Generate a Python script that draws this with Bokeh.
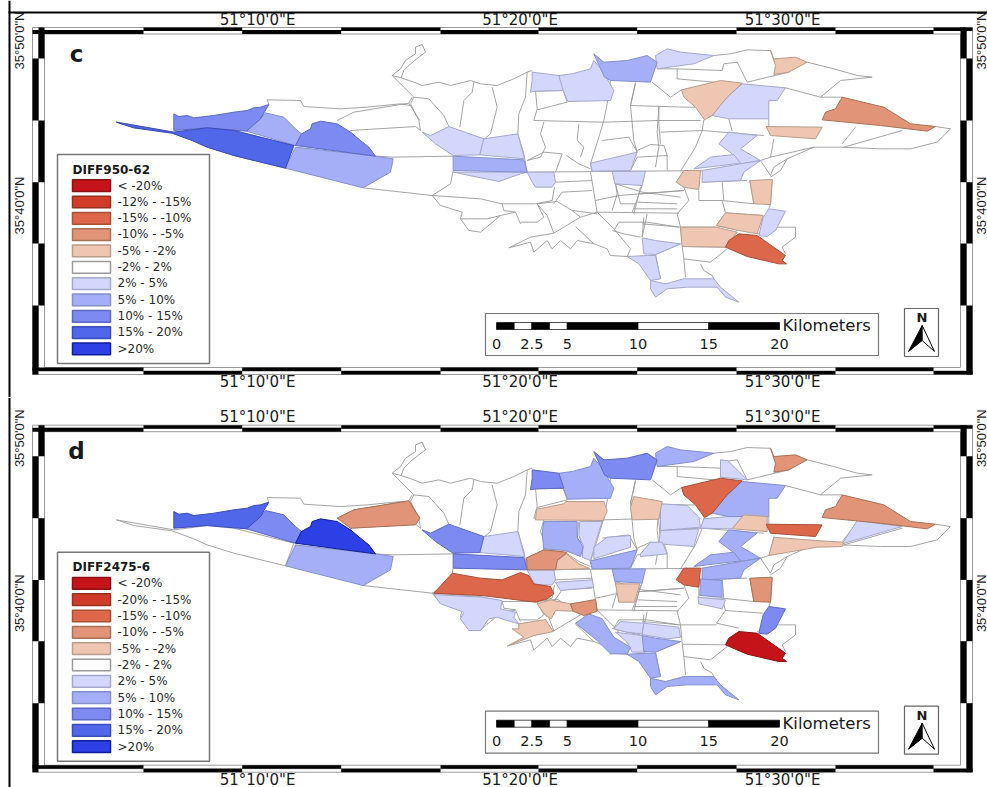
from math import pi
from bokeh.plotting import figure
from bokeh.layouts import column
from bokeh.models import Range1d
from bokeh.core.properties import value
from bokeh.embed import file_html
from bokeh.resources import INLINE

# ---- classes ----
LABELS_C = ["< -20%", "-12% - -15%", "-15% - -10%", "-10% - -5%", "-5% - -2%", "-2% - 2%",
            "2% - 5%", "5% - 10%", "10% - 15%", "15% - 20%", ">20%"]
LABELS_D = ["< -20%", "-20% - -15%", "-15% - -10%", "-10% - -5%", "-5% - -2%", "-2% - 2%",
            "2% - 5%", "5% - 10%", "10% - 15%", "15% - 20%", ">20%"]
FILLS = ["#c4141a", "#d13c28", "#dc674a", "#e19478", "#eec6b2", "#ffffff",
         "#d3d7fb", "#a5aff7", "#7c8af2", "#5167ea", "#2c40e6"]
EDGES = ["#8c1014", "#96301f", "#a85038", "#a87258", "#b89c8c", "#9a9a9a",
         "#a4a8cc", "#8490cc", "#5c68c4", "#3a4cbc", "#101e98"]
TITLES = ("DIFF950-62", "DIFF2475-6")
LON_TICKS = [(10, "51°10'0\"E"), (20, "51°20'0\"E"), (30, "51°30'0\"E")]
LAT_TICKS = [(50, "35°50'0\"N"), (40, "35°40'0\"N")]
SCALE_KM = [0, 1.25, 2.5, 3.75, 5, 10, 15, 20]
SCALE_LABELS = [(0, "0"), (2.5, "2.5"), (5, "5"), (10, "10"), (15, "15"), (20, "20")]

# ---- districts, in map-grid units (3 per reference pixel) ----
DISTRICTS = {
 "SW":  ([(-792,245),(-620,275),(-520,262),(-440,270),(-260,315),(-285,383),(-440,345),(-520,320),(-565,300),(-625,278),(-740,262)], 9, 5),
 "NW":  ([(-620,220),(-605,228),(-580,225),(-560,232),(-500,225),(-440,215),(-400,210),(-380,202),(-360,200),(-335,192),(-360,235),(-402,272),(-520,262),(-620,270)], 8, 9),
 "B":   ([(-345,217),(-290,230),(-255,265),(-237,280),(-255,315),(-402,272),(-360,235)], 7, 8),
 "C":   ([(-237,280),(-210,265),(-205,250),(-180,242),(-130,250),(-90,275),(-60,300),(-35,320),(-15,347),(-255,315)], 8, 10),
 "D":   ([(-255,320),(-15,347),(38,355),(30,395),(-52,442),(-285,383)], 7, 7),
 "E":   ([(-130,240),(-80,215),(85,188),(118,240),(105,260),(-90,270)], 5, 3),
 "F":   ([(125,275),(150,285),(205,258),(310,295),(298,343),(218,345),(165,310)], 6, 8),
 "G":   ([(310,295),(412,280),(432,355),(298,343)], 6, 6),
 "H":   ([(218,347),(430,358),(440,395),(218,390)], 7, 8),
 "I":   ([(218,395),(355,423),(420,400),(440,395)], 6, 5),
 "J":   ([(440,395),(520,395),(525,425),(515,440),(465,440),(455,425)], 6, 6),
 "K":   ([(630,368),(770,335),(750,390),(635,392)], 6, 7),
 "L":   ([(695,393),(795,392),(785,435),(703,430)], 6, 7),
 "M":   ([(455,95),(535,105),(550,150),(465,152),(450,155),(455,120)], 6, 8),
 "N":   ([(535,105),(575,100),(630,85),(640,60),(665,90),(700,150),(690,180),(562,183),(548,150)], 6, 7),
 "O":   ([(640,40),(670,65),(740,60),(800,45),(830,65),(810,125),(690,120),(672,110)], 7, 8),
 "P":   ([(825,45),(860,25),(900,35),(1000,45),(940,70),(830,85)], 6, 7),
 "Q":   ([(1170,30),(1180,55),(1245,50),(1280,65),(1225,95),(1180,102),(1185,75)], 4, 3),
 "R":   ([(903,148),(1020,120),(1085,128),(1040,170),(995,225),(972,238),(945,200),(910,170)], 4, 2),
 "S":   ([(1085,130),(1215,142),(1190,180),(1165,180),(1165,235),(1045,235),(995,225),(1040,170)], 6, 7),
 "T":   ([(1385,170),(1510,200),(1590,250),(1665,258),(1640,272),(1500,255),(1325,238),(1335,215),(1365,205)], 3, 3),
 "U":   ([(1157,258),(1325,260),(1305,295),(1170,285)], 4, 2),
 "V":   ([(1180,297),(1305,307),(1390,312),(1385,325),(1310,327),(1165,352)], 5, 4),
 "W":   ([(1430,247),(1565,265),(1385,317)], 5, 6),
 "X":   ([(1015,310),(1045,275),(1130,285),(1080,325),(1140,360),(1080,370),(1055,340)], 6, 7),
 "Y":   ([(940,385),(990,350),(1060,342),(1080,368)], 6, 7),
 "Z":   ([(965,390),(1080,370),(1140,360),(1090,395),(1080,420),(965,425)], 6, 7),
 "AA":  ([(910,390),(960,390),(955,447),(910,440),(887,425)], 4, 2),
 "AB":  ([(1108,420),(1175,417),(1170,492),(1120,490)], 4, 3),
 "AC":  ([(1165,505),(1215,512),(1185,570),(1160,588),(1135,585),(1148,530)], 6, 8),
 "AD":  ([(1035,517),(1148,525),(1130,580),(1075,570),(1008,555)], 4, 5),
 "AE":  ([(900,560),(1008,560),(1070,575),(1035,620),(905,618)], 4, 5),
 "AF":  ([(1075,580),(1130,585),(1215,645),(1205,660),(1218,670),(1195,670),(1100,648),(1035,620),(1045,600)], 2, 0),
 "AG":  ([(785,592),(825,600),(900,610),(825,642),(790,640)], 6, 7),
 "AH":  ([(740,648),(800,645),(825,645),(840,715),(810,720),(775,670)], 6, 7),
 "AI":  ([(810,720),(855,730),(910,715),(1000,715),(1020,740),(1075,785),(1035,770),(1010,740),(920,740),(860,745),(825,770),(810,745)], 6, 7),
 "BA":  ([(468,213),(550,197),(555,190),(670,190),(680,218),(668,247),(465,245)], 5, 4),
 "BB":  ([(760,175),(845,190),(835,243),(755,245),(750,208)], 5, 4),
 "BC":  ([(490,250),(590,250),(590,297),(608,327),(600,355),(555,337),(490,332),(485,287)], 5, 7),
 "BD":  ([(598,250),(665,250),(650,297),(630,367),(605,357),(608,322),(595,292)], 5, 6),
 "BE":  ([(680,297),(750,292),(750,327),(640,362),(640,327)], 5, 6),
 "BG":  ([(438,359),(490,335),(560,342),(530,367),(525,395),(440,395)], 5, 3),
 "BH":  ([(525,395),(530,367),(558,347),(595,377),(628,391)], 5, 4),
 "BI":  ([(525,432),(635,425),(640,447),(540,457)], 5, 6),
 "BJ":  ([(160,465),(215,405),(300,420),(365,425),(420,403),(445,412),(460,437),(510,445),(520,467),(500,482),(465,492),(305,472)], 5, 2),
 "BK":  ([(705,437),(778,437),(762,492),(715,492)], 5, 4),
 "BL":  ([(470,497),(510,485),(570,497),(578,519),(525,517),(512,542),(495,532)], 5, 4),
 "BM":  ([(570,497),(645,484),(650,519),(610,532),(578,519)], 5, 3),
 "BN":  ([(415,557),(495,544),(518,580),(460,592),(380,624),(430,597),(395,572),(415,572)], 5, 4),
 "BO":  ([(160,469),(305,477),(365,487),(360,512),(405,522),(400,537),(415,557),(380,547),(350,537),(325,542),(300,577),(265,577),(240,542),(250,522),(180,497)], 5, 6),
 "BP":  ([(585,555),(625,527),(665,542),(700,597),(750,627),(740,647),(690,647),(650,607)], 5, 7),
 "BQ":  ([(700,572),(720,550),(790,555),(785,587),(740,582)], 5, 6),
 "BR":  ([(790,555),(895,567),(900,597),(860,602),(785,589)], 5, 6),
 "BS":  ([(705,582),(785,592),(795,642),(755,642),(740,612)], 5, 6),
 "BU":  ([(840,197),(920,202),(955,237),(960,267),(840,277)], 5, 6),
 "BV":  ([(840,277),(955,272),(940,325),(835,317)], 5, 6),
 "BW":  ([(780,347),(810,312),(845,312),(860,347),(780,355)], 5, 6),
 "BX":  ([(970,242),(1090,230),(1055,272),(960,270)], 5, 6),
 "BY":  ([(1090,230),(1160,235),(1160,280),(1055,272)], 5, 4),
 "BZ":  ([(960,422),(1025,427),(1025,477),(958,472)], 5, 7),
 "CA":  ([(952,477),(1035,485),(1025,512),(955,497)], 5, 6),
 "CB":  ([(1020,65),(1042,67),(1100,125),(1020,117)], 5, 6),
}

# ---- uncoloured boundaries, same grid ----
BOUNDARIES = [
 [(35,105),(60,85),(75,60),(105,40),(105,20),(125,12),(135,35),(115,50),(90,70),(70,90),(62,112),(100,125),(125,135),(175,125),(210,135),(270,120),(300,130),(350,135),(400,115),(440,95),(455,90)],
 [(35,105),(62,112)], [(35,105),(80,150),(100,170),(90,190),(115,240),(120,270)],
 [(-335,192),(-340,178),(-240,180),(-230,198),(-120,205),(-40,200),(60,190),(90,195)],
 [(85,188),(95,170)], [(100,170),(145,175),(190,225),(205,258)],
 [(-130,240),(-80,215),(85,188),(118,240)],
 [(-792,245),(-620,275),(-520,262),(-440,270),(-260,315)], [(-285,383),(-440,345),(-520,320),(-565,300),(-625,278),(-740,262),(-792,245)],
 [(-285,383),(-260,315)],
 [(-90,270),(105,258),(120,270)], [(38,350),(218,347)], [(218,390),(210,430),(155,465)],
 [(-15,347),(38,350)], [(-52,442),(155,465),(300,475),(365,490),(465,490),(515,480),(522,440)],
 [(155,465),(180,495),(245,515),(240,535),(265,570),(300,575),(330,550),(360,525),(405,515),(420,550)],
 [(240,535),(320,535),(360,525)], [(365,490),(370,510),(405,515)],
 [(420,545),(470,545),(490,530),(470,490)], [(470,490),(500,525),(520,578)],
 [(385,622),(450,590),(520,578)], [(385,622),(450,605),(460,635),(500,600),(515,625),(540,600),(570,625),(590,600),(640,610),(680,625),(690,645),(740,648)],
 [(520,578),(600,530),(650,515),(700,565),(750,625),(740,648)], [(585,558),(640,610)],
 [(470,490),(530,483),(575,510),(650,520)], [(575,510),(600,530)],
 [(280,125),(275,155),(250,180),(238,260)], [(335,140),(350,200),(330,280),(312,295)],
 [(440,95),(435,170),(415,220),(412,280),(430,340),(440,395)],
 [(460,95),(465,150),(470,205),(460,240),(670,245),(835,240),(960,240)],
 [(465,152),(548,150),(560,185),(470,208)], [(690,120),(680,190),(670,240),(655,290),(630,370),(635,392)],
 [(490,245),(480,280),(495,320),(480,350),(440,360)], [(440,360),(490,335),(545,340),(525,395)],
 [(558,345),(595,370),(630,385)], [(595,250),(590,300),(610,320),(600,350)],
 [(665,300),(745,290),(770,335)], [(765,125),(750,195),(760,300),(770,335)],
 [(835,195),(835,250),(840,310)], [(770,330),(810,312),(850,315),(860,345),(770,350),(750,390)],
 [(860,345),(860,390)], [(440,395),(1000,390)],
 [(525,425),(635,420)], [(545,455),(635,450)], [(545,455),(520,490)], [(630,395),(650,515)],
 [(705,430),(720,490),(765,490),(785,435)], [(705,430),(785,455),(900,470)],
 [(645,480),(715,465),(910,450)], [(650,515),(895,518)], [(765,490),(755,515)],
 [(800,520),(785,590)], [(700,570),(715,545),(800,545),(895,560)],
 [(1000,45),(1050,40),(1100,28),(1160,30),(1170,30)], [(1280,65),(1360,85),(1430,105),(1475,110),(1380,120),(1320,170)],
 [(1215,142),(1320,170),(1385,170)], [(1225,95),(1100,125)], [(1025,90),(1030,70),(1070,65),(1100,125)],
 [(830,85),(890,85),(1025,90)], [(890,85),(890,115),(1000,125)], [(815,125),(870,170),(903,148)],
 [(765,130),(750,195),(915,200),(945,200)], [(835,200),(830,275),(835,320),(825,380)],
 [(970,238),(965,270),(945,320),(900,392)], [(840,275),(965,270),(1150,285)],
 [(1180,295),(1170,350),(1140,360)], [(1170,350),(1300,320),(1380,320),(1500,325),(1590,325),(1670,305),(1710,265),(1665,258)],
 [(1385,310),(1425,260)], [(1565,270),(1390,320)], [(1300,320),(1220,355),(1200,390),(1170,410)],
 [(1140,360),(1170,405),(1180,380),(1220,355)],
 [(965,425),(1100,420)], [(955,450),(955,480)], [(1025,425),(1030,480)], [(955,480),(1025,480),(1120,490)],
 [(1025,480),(1035,517)], [(1170,492),(1165,505)],
 [(1190,560),(1245,560),(1245,590),(1205,620),(1215,640)], [(1130,580),(1190,560)],
 [(890,520),(900,560),(905,615),(910,655),(915,710)], [(910,655),(990,665),(1040,625)],
 [(960,670),(970,690),(995,705),(1000,715)], [(790,530),(785,590)], [(695,570),(730,580),(780,590)],
 [(900,560),(785,550)], [(825,642),(840,715)], [(900,610),(825,642)],
 [(910,440),(925,480),(890,520)], [(780,440),(760,520)], [(700,400),(710,460),(695,510)],
 [(780,460),(910,450)], [(770,485),(890,490)], [(760,505),(890,505)],
 [(1165,235),(1165,258)], [(1000,390),(1140,360)],
 [(1035,517),(1148,525)], [(1008,555),(1035,517)], [(1008,555),(1075,570)], [(900,560),(1008,560)],
 [(905,618),(1035,620)], [(1045,235),(1055,272)], [(1108,420),(1120,490)], [(1175,417),(1170,492)],
]

# ---- reference-pixel <-> geographic scale of the map ----
def lon_of(px): return 51 + (10 + (px - 257) / 26.25) / 60
def lat_of(py): return 35 + (50 - (py - 40) / 16.5) / 60
def gx(v): return lon_of(380 + v / 3)
def gy(v): return lat_of(40 + v / 3)
def km_x(km): return lon_of(496 + 14.15 * km)

FRAME_L, FRAME_R, FRAME_T, FRAME_B = 32, 972, 27, 374
X_BREAKS = [32, 143, 241.7, 340.7, 440, 538, 636.7, 736, 835, 933, 972]
Y_BREAKS = [27, 58, 120, 181.7, 243, 305, 374]


def panel(labels, title, letter, cls_i, py_top, py_bot, height):
    p = figure(width=987, height=height, output_backend="svg", toolbar_location=None,
               x_range=Range1d(lon_of(0), lon_of(987)), y_range=Range1d(lat_of(py_bot), lat_of(py_top)),
               x_axis_type=None, y_axis_type=None, min_border=0, outline_line_color=None)
    p.grid.visible = False

    def q(l, r, t, b, col="black", edge=None, w=1):
        p.quad(left=[lon_of(l)], right=[lon_of(r)], top=[lat_of(t)], bottom=[lat_of(b)],
               fill_color=col, line_color=edge, line_width=w)

    def ln(xs, ys, col, w=1.0):
        p.line([lon_of(v) for v in xs], [lat_of(v) for v in ys], line_color=col, line_width=w)

    def tx(x, y, text, size, font="DejaVu Sans", style="normal", angle=0, align="center", color="#1a1a1a"):
        p.text(x=[x], y=[y], text=[text], text_font=value(font), text_font_size=size, text_font_style=style,
               angle=angle, text_align=align, text_baseline="middle", text_color=color)

    # page rules
    q(8, 10, py_top, py_bot)
    if letter == "c":
        q(8, 987, 11, 13)

    # neatline
    for xs, ys in [((FRAME_L, FRAME_R, FRAME_R, FRAME_L, FRAME_L), (FRAME_T, FRAME_T, FRAME_B, FRAME_B, FRAME_T)),
                   ((44, 960, 960, 44, 44), (33.5, 33.5, 367, 367, 33.5)),
                   ((38, 966, 966, 38, 38), (30, 30, 370.5, 370.5, 30))]:
        ln(xs, ys, "#9a9a9a", 1)
    for i in range(len(X_BREAKS) - 1):
        a, b = X_BREAKS[i], X_BREAKS[i + 1]
        inner = i % 2 == 0
        q(a, b, 29.5 if inner else 27, 33.5 if inner else 30.5)
        q(a, b, 367 if inner else 370.5, 370.5 if inner else 374)
    for i in range(len(Y_BREAKS) - 1):
        a, b = Y_BREAKS[i], Y_BREAKS[i + 1]
        inner = i % 2 == 0
        q(38 if inner else 32, 44 if inner else 38, a, b)
        q(960 if inner else 966, 966 if inner else 972, a, b)

    # districts
    groups = {c: ([], []) for c in range(11)}
    for pts, *cl in DISTRICTS.values():
        c = cl[cls_i]
        groups[c][0].append([gx(v[0]) for v in pts])
        groups[c][1].append([gy(v[1]) for v in pts])
    p.patches(xs=groups[5][0], ys=groups[5][1], fill_color=FILLS[5], line_color=None)
    for seg in BOUNDARIES:
        p.line([gx(v[0]) for v in seg], [gy(v[1]) for v in seg], line_color=EDGES[5], line_width=0.9)
    for c in [6, 7, 8, 9, 10, 4, 3, 2, 1, 0]:
        if groups[c][0]:
            p.patches(xs=groups[c][0], ys=groups[c][1], fill_color=FILLS[c], line_color=EDGES[c], line_width=1.0)

    # legend
    q(57, 209, 154, 363, "white", "#777777", 1.5)
    tx(lon_of(72), lat_of(169), title, "12px", style="bold", align="left")
    for i, lab in enumerate(labels):
        q(72, 110, 179.3 + i * 16.33, 191 + i * 16.33, FILLS[i], EDGES[i], 1.5)
        tx(lon_of(117), lat_of(185 + i * 16.33), lab, "12px", align="left", color="#2a2a2a")

    # graticule labels
    for m, s in LON_TICKS:
        tx(51 + m / 60, lat_of(19), s, "15px")
        tx(51 + m / 60, lat_of(381.5), s, "15px")
    for m, s in LAT_TICKS:
        tx(lon_of(18.5), 35 + m / 60, s, "13px", font="Liberation Sans", angle=pi / 2)
        tx(lon_of(981), 35 + m / 60, s, "13px", font="Liberation Sans", angle=pi / 2)

    tx(lon_of(76), lat_of(53), letter, "23px", style="bold")

    # scale bar
    q(485, 878, 313, 355, "white", "#777777", 1.2)
    for i in range(len(SCALE_KM) - 1):
        p.quad(left=[km_x(SCALE_KM[i])], right=[km_x(SCALE_KM[i + 1])], top=[lat_of(322)], bottom=[lat_of(329)],
               fill_color="black" if i % 2 == 0 else "white", line_color="black", line_width=0.7)
    for km, s in SCALE_LABELS:
        tx(km_x(km), lat_of(343), s, "14.5px")
    tx(lon_of(782), lat_of(325), "Kilometers", "16.5px", align="left")

    # north arrow
    q(904, 938, 308, 356, "white", "#666666", 1.2)
    tx(lon_of(921.5), lat_of(317), "N", "13px", style="bold")
    ny = [lat_of(v) for v in (325, 351, 340)]
    p.patch([lon_of(v) for v in (921.7, 908, 921.7)], ny, fill_color="black", line_color="black")
    p.patch([lon_of(v) for v in (921.7, 934, 921.7)], ny, fill_color="white", line_color="black")
    return p


pc = panel(LABELS_C, TITLES[0], "c", 0, 0, 397, 397)
pd = panel(LABELS_D, TITLES[1], "d", 1, -0.7, 389.3, 390)

page = column(pc, pd, spacing=0)
open("out.html", "w").write(file_html(page, INLINE))
